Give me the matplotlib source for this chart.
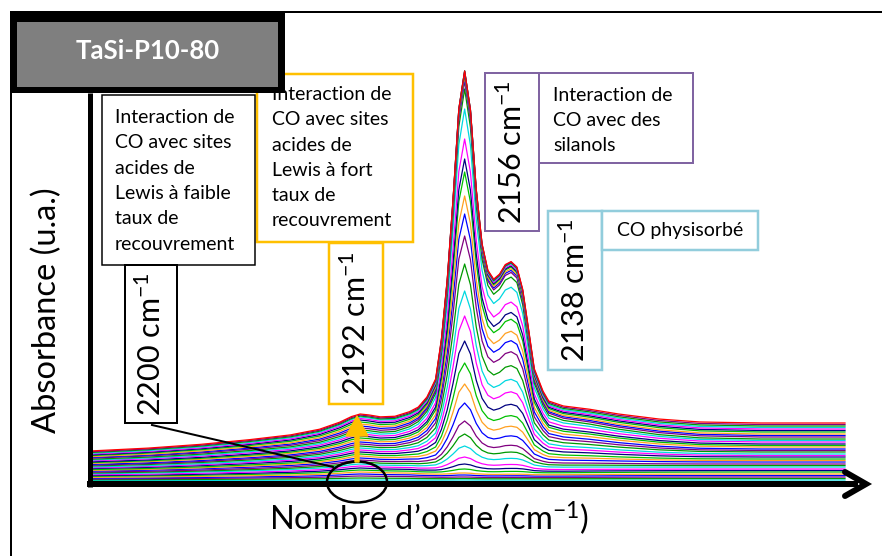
import numpy as np
import matplotlib
matplotlib.use("Agg")
import matplotlib.pyplot as plt
from matplotlib.patches import Rectangle, Ellipse, FancyArrow

# ---------------- data ----------------
# wavenumber grid (cm-1), axis runs from high (left) to low (right)
wavenumber = [2284, 2265, 2247, 2230, 2216, 2206, 2199, 2195, 2192, 2189, 2185,
              2180, 2175, 2172, 2169, 2166, 2164, 2162, 2160, 2158, 2156, 2154,
              2152, 2150, 2148, 2146, 2144, 2142, 2140, 2138, 2136, 2134, 2132,
              2129, 2127, 2122, 2113, 2103, 2089, 2075, 2054, 2025]

# tilted baseline of the spectra (relative to the flat right-hand plateau)
baseline_shape = [0.52, 0.55, 0.58, 0.61, 0.64, 0.66, 0.67, 0.68, 0.69, 0.70, 0.71,
                  0.72, 0.73, 0.74, 0.75, 0.76, 0.76, 0.77, 0.77, 0.78, 0.78, 0.79,
                  0.79, 0.80, 0.80, 0.81, 0.81, 0.82, 0.82, 0.83, 0.84, 0.85, 0.85,
                  0.86, 0.87, 0.88, 0.91, 0.94, 0.97, 0.99, 1.00, 1.00]

# band of CO on Lewis sites (2192 cm-1), as read on the top spectrum
lewis_band = [0, 1, 3, 6, 9, 13, 19, 24, 26, 24, 21, 19, 17, 13, 10.5, 8, 6, 5, 4, 3,
              2, 1.5, 1, 1, 0.5, 0, 0, 0, 0, 0, 0, 0, 0, 0, 0, 0, 0, 0, 0, 0, 0, 0]

# silanol (2156) + physisorbed (2138) bands, as read on the top spectrum
main_band = [0, 0, 0, 0, 0, 0.5, 1, 1, 1, 1.5, 2, 4, 10, 18, 30, 50, 92, 152, 233,
             324, 363, 324, 245, 190, 164, 155, 160, 169, 172, 166, 143, 103, 63,
             40, 29.5, 24, 19, 12.5, 5.7, 1.6, 0, 0]

# per spectrum (bottom to top): height of the right plateau, at 2192 and at 2156
plateau_height = [1, 2.5, 4, 5.5, 7, 9, 10.5, 12, 14, 15.5, 17, 19, 20.5, 22, 24,
                  25.5, 27, 29, 30.5, 32, 34, 35.5, 37, 39, 40.5, 42, 44, 45.5, 47,
                  49, 50.5, 52, 53.5, 55, 56.5, 58]
height_2192 = [1, 3, 5, 7, 9, 11, 13, 15, 17, 19, 21, 23, 25, 27, 29, 31, 33, 35,
               37, 39, 41, 43, 45, 47, 49, 51, 53, 55, 57, 59, 61, 62.5, 64, 65, 66, 67]
height_2156 = [1, 2.5, 4, 6, 8, 12, 17, 24, 35, 47, 60, 78, 97, 118, 140, 165, 190,
               217, 245, 267, 285, 309, 322, 342, 372, 392, 400, 403, 405, 407, 408,
               409, 410, 410, 410, 410]

title = "TaSi-P10-80"
ylabel = "Absorbance (u.a.)"
xlabel = "Nombre d\u2019onde (cm$^{-1}$)"
box_lewis_low = ["Interaction de", "CO avec sites", "acides de",
                 "Lewis \u00e0 faible", "taux de", "recouvrement"]
box_lewis_high = ["Interaction de", "CO avec sites", "acides de",
                  "Lewis \u00e0 fort", "taux de", "recouvrement"]
box_silanol = ["Interaction de", "CO avec des", "silanols"]
box_phys = "CO physisorb\u00e9"
band_labels = ["2200 cm$^{-1}$", "2192 cm$^{-1}$", "2156 cm$^{-1}$", "2138 cm$^{-1}$"]

# ---------------- style ----------------
plt.rcParams["font.family"] = ["Lato", "DejaVu Sans"]
plt.rcParams["mathtext.fontset"] = "custom"
plt.rcParams["mathtext.rm"] = "Lato"
plt.rcParams["mathtext.it"] = "Lato:italic"
plt.rcParams["mathtext.bf"] = "Lato:bold"

W, H = 882, 556
PT = 0.72  # points per pixel at dpi 100
BOX_FS = 14
BAND_FS = 22
cycle_down = ["#ff00ff", "#000080", "#00c000", "#ffa020",
              "#0000ff", "#800080", "#009900", "#00d8e0"]

fig = plt.figure(figsize=(W / 100, H / 100), dpi=100)

# ---------------- spectra ----------------
x0, x1, ytop, ybot = 93, 845, 71, 481
ax = fig.add_axes([x0 / W, (H - ybot) / H, (x1 - x0) / W, (ybot - ytop) / H])
ax.set_xlim(wavenumber[0], wavenumber[-1])
ax.set_ylim(0, 410)
ax.axis("off")

wn = np.array(wavenumber, dtype=float)
base = np.array(baseline_shape)
lew = np.array(lewis_band) / max(lewis_band)
main = np.array(main_band) / max(main_band)
i92 = wavenumber.index(2192)
i56 = wavenumber.index(2156)
M = np.array([[main[i56], lew[i56]], [main[i92], lew[i92]]])
n = len(plateau_height)
for k in range(n):
    b = plateau_height[k]
    rhs = np.array([height_2156[k] - b * base[i56], height_2192[k] - b * base[i92]])
    m, l = np.clip(np.linalg.solve(M, rhs), 0, None)
    y = b * base + l * lew + m * main
    col = "#ff0000" if k == n - 1 else cycle_down[(23 - k) % 8]
    ax.plot(wn, y, color=col, lw=0.9, clip_on=False, zorder=2 + k * 0.01)

# ---------------- overlay (annotations) ----------------
ov = fig.add_axes([0, 0, 1, 1], zorder=5)
ov.set_xlim(0, W)
ov.set_ylim(H, 0)
ov.axis("off")
ov.patch.set_alpha(0)


def rect(xa, ya, xb, yb, ec, lw, fc="white", z=3):
    ov.add_patch(Rectangle((xa, ya), xb - xa, yb - ya, facecolor=fc, edgecolor=ec,
                           linewidth=lw * PT, zorder=z))


# outer frame
ov.plot([11, 11], [12, H], color="black", lw=2 * PT, zorder=1)
ov.plot([11, W], [12, 12], color="black", lw=2 * PT, zorder=1)

# axes with arrow
ov.plot([90, 90], [93, 487], color="black", lw=5 * PT, solid_capstyle="butt", zorder=4)
ov.plot([87, 858], [484, 484], color="black", lw=6 * PT, solid_capstyle="butt", zorder=4)
ov.plot([845, 866, 845], [472, 484, 496], color="black", lw=6 * PT,
        solid_capstyle="round", solid_joinstyle="miter", zorder=4)

# yellow boxes (Lewis, high coverage)
rect(257, 74, 413, 242, "#ffc000", 2.5)
rect(329, 243, 383, 404, "#ffc000", 2.5)
for j, t in enumerate(box_lewis_high):
    ov.text(272, 100 + 25.3 * j, t, fontsize=BOX_FS, va="baseline", ha="left", zorder=4)
ov.text(356, 323, band_labels[1], fontsize=BAND_FS, rotation=90, ha="center", va="center", zorder=4)

# title box
rect(10, 13, 285, 93, "black", 0, fc="black", z=6)
rect(17, 22, 278, 87, "#7f7f7f", 0, fc="#7f7f7f", z=6)
ov.text(147.5, 51, title, fontsize=18.5, fontweight="bold", color="white",
        ha="center", va="center", zorder=7)

# black boxes (Lewis, low coverage)
rect(102, 95, 255, 265, "black", 1.5)
rect(125, 265, 177, 423, "black", 2)
for j, t in enumerate(box_lewis_low):
    ov.text(115, 123 + 25.3 * j, t, fontsize=BOX_FS, va="baseline", ha="left", zorder=4)
ov.text(151, 344, band_labels[0], fontsize=BAND_FS, rotation=90, ha="center", va="center", zorder=4)

# purple boxes (silanols)
rect(485, 73, 539, 231, "#8064a2", 2)
rect(539, 73, 693, 163, "#8064a2", 2)
for j, t in enumerate(box_silanol):
    ov.text(553, 101 + 25 * j, t, fontsize=BOX_FS, va="baseline", ha="left", zorder=4)
ov.text(512, 152, band_labels[2], fontsize=BAND_FS, rotation=90, ha="center", va="center", zorder=4)

# light blue boxes (physisorbed)
rect(548, 211, 602, 370, "#92cddc", 2.5)
rect(602, 211, 758, 250, "#92cddc", 2.5)
ov.text(680, 236, box_phys, fontsize=BOX_FS, va="baseline", ha="center", zorder=4)
ov.text(575, 290, band_labels[3], fontsize=BAND_FS, rotation=90, ha="center", va="center", zorder=4)

# connector line, ellipse and arrow
ov.plot([152, 333], [425, 467], color="black", lw=2 * PT, zorder=4)
ov.add_patch(Ellipse((357, 482), 60, 41, fill=False, edgecolor="black",
                     linewidth=2.5 * PT, zorder=4))
ov.add_patch(FancyArrow(357, 462, 0, -46, width=4, head_width=22, head_length=20,
                        length_includes_head=True, color="#ffc000", zorder=4))

# axis labels
ov.text(47, 310, ylabel, fontsize=23.5, rotation=90, ha="center", va="center")
ov.text(429, 518, xlabel, fontsize=23.5, ha="center", va="center")

fig.savefig("out.png", dpi=100)
